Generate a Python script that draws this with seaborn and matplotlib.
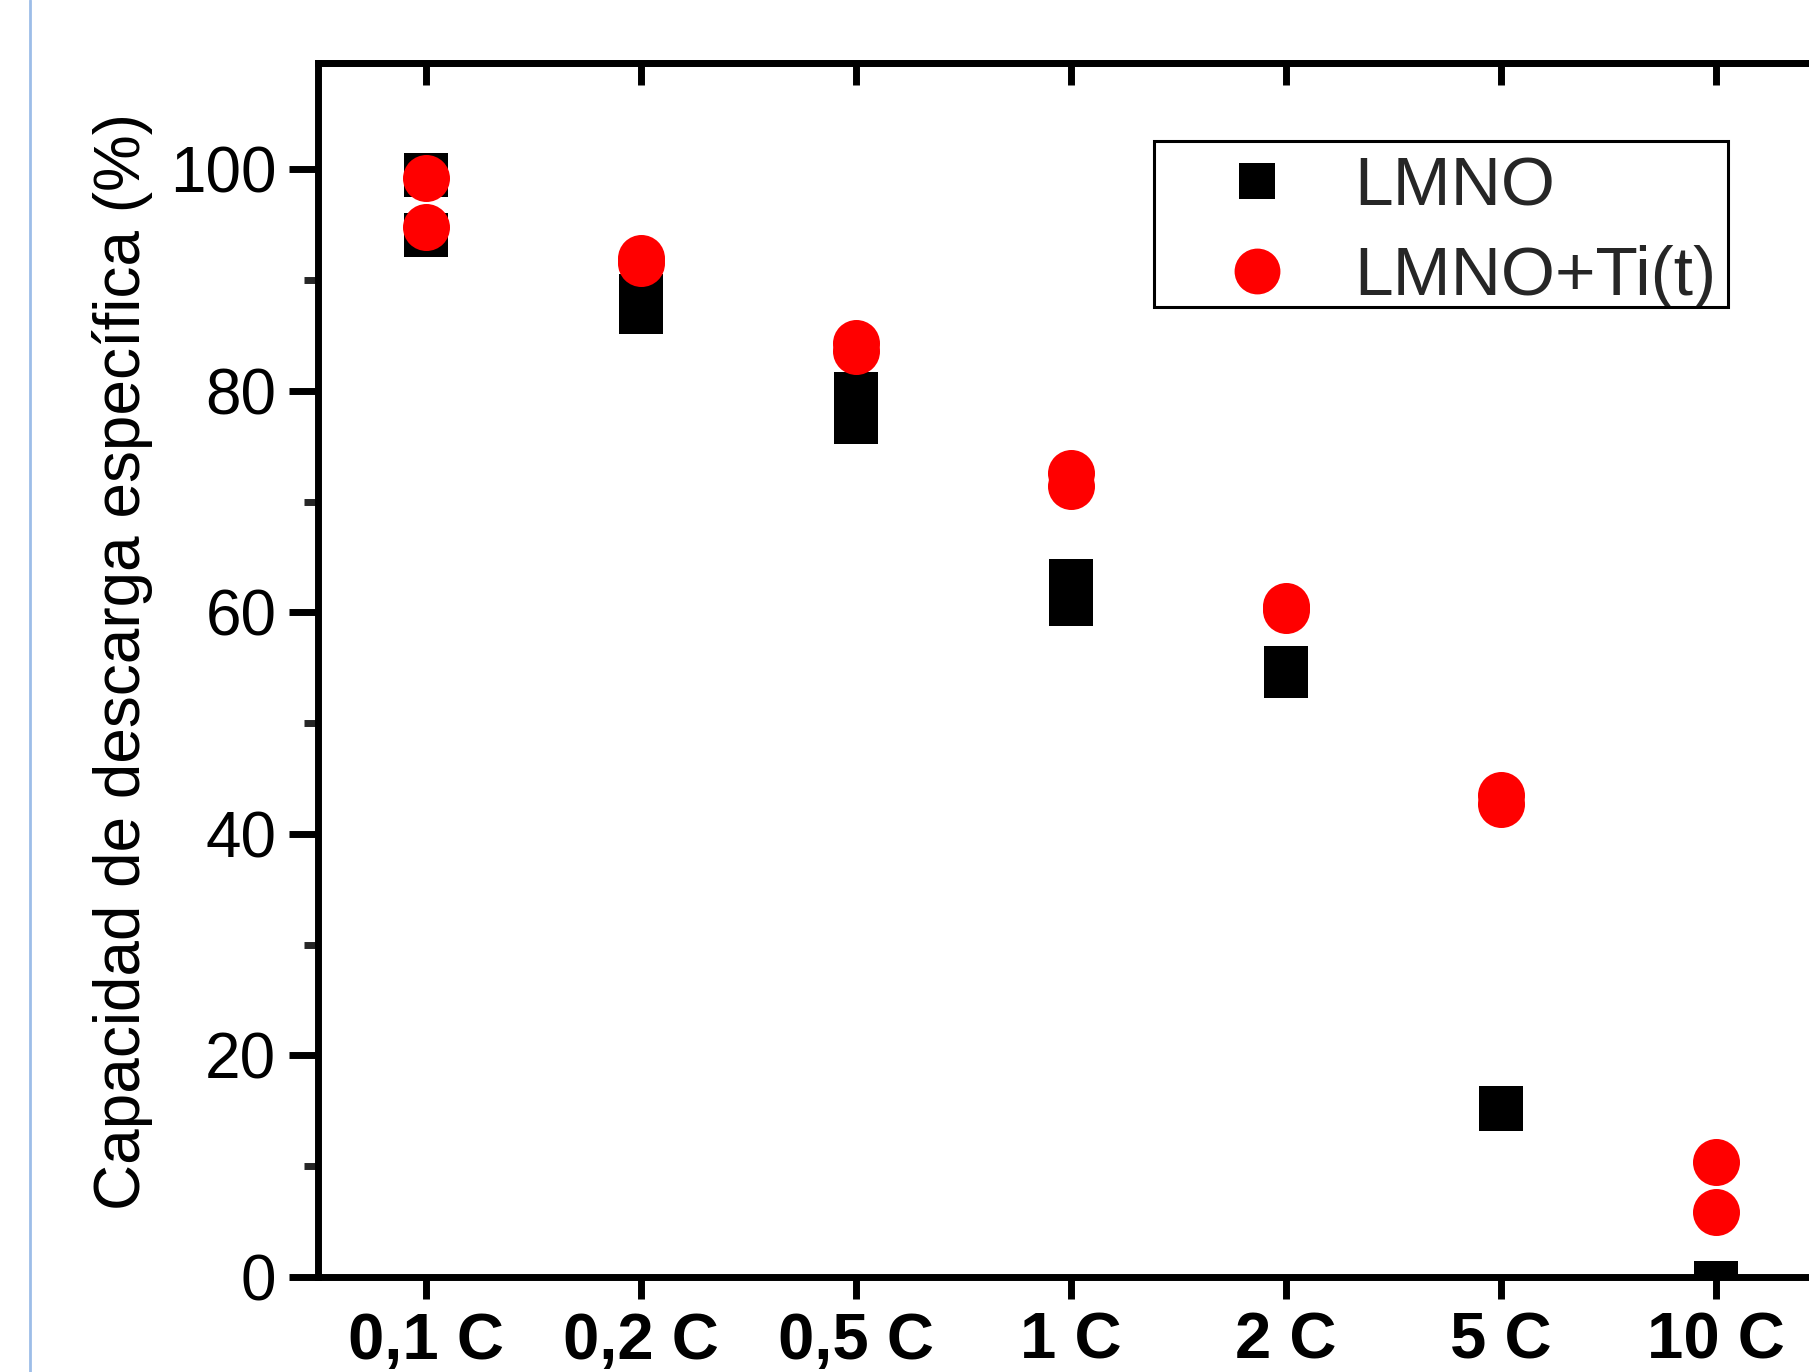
import matplotlib
matplotlib.use("Agg")
import matplotlib.pyplot as plt
import seaborn as sns
import pandas as pd
from matplotlib.lines import Line2D
from matplotlib.patches import Rectangle
from matplotlib.ticker import MultipleLocator

# ---- data ----
rates = ["0,1 C", "0,2 C", "0,5 C", "1 C", "2 C", "5 C", "10 C"]
lmno_first = [99.5, 88.6, 79.7, 62.8, 55.0, 15.3, -0.5]
lmno_second = [94.1, 87.1, 77.2, 60.8, 54.3, 15.2, -0.6]
ti_first = [99.2, 92.0, 84.3, 72.6, 60.6, 43.5, 10.4]
ti_second = [94.8, 91.5, 83.6, 71.4, 60.2, 42.7, 5.9]
series_names = ["LMNO", "LMNO+Ti(t)"]
y_label = "Capacidad de descarga específica (%)"

df = pd.DataFrame({
    "rate": rates * 4,
    "cap": lmno_first + lmno_second + ti_first + ti_second,
    "sample": [series_names[0]] * 14 + [series_names[1]] * 14,
})

sns.set_theme(style="white")
plt.rcParams["font.family"] = ["Liberation Sans", "DejaVu Sans"]

W, H = 1809, 1372
fig = plt.figure(figsize=(W / 100, H / 100), dpi=100)
ax = fig.add_axes([318 / W, (H - 1277) / H, 1505 / W, (1277 - 63) / H])

sns.scatterplot(data=df[df["sample"] == series_names[0]], x="rate", y="cap",
                marker="s", s=961, color="black", linewidth=0, legend=False, ax=ax)
sns.scatterplot(data=df[df["sample"] == series_names[1]], x="rate", y="cap",
                marker="o", s=1145, color="#ff0000", linewidth=0, legend=False, ax=ax)

ax.set_xlim(-0.5, 6.5)
ax.set_ylim(0, 109.6)
ax.yaxis.set_major_locator(MultipleLocator(20))
ax.yaxis.set_minor_locator(MultipleLocator(10))

for side in ["left", "bottom", "top", "right"]:
    ax.spines[side].set_linewidth(5)
    ax.spines[side].set_color("black")

ax.tick_params(axis="y", which="major", direction="out", length=21, width=5,
               labelsize=46, pad=9, left=True, colors="black")
ax.tick_params(axis="y", which="minor", direction="out", length=10, width=5, left=True)
ax.tick_params(axis="x", which="major", direction="out", length=16, width=5,
               labelsize=47, pad=9, bottom=True, top=False, colors="black")
for lab in ax.get_xticklabels():
    lab.set_fontweight("bold")

top = ax.secondary_xaxis("top")
top.set_xticks(range(len(rates)))
top.set_xticklabels([""] * len(rates))
top.tick_params(axis="x", direction="in", length=16, width=5, colors="black")
top.spines["top"].set_linewidth(5)

ax.set_xlabel("")
ax.set_ylabel(y_label, fontsize=46, labelpad=12, color="black")
ax.yaxis.label.set_y(0.507)

handles = [
    Line2D([], [], marker="s", color="black", linestyle="None", markersize=26.6, markeredgewidth=0),
    Line2D([], [], marker="o", color="#ff0000", linestyle="None", markersize=33, markeredgewidth=0),
]
leg = ax.legend(handles=handles, labels=series_names, loc="upper left",
                bbox_to_anchor=(1154 / W, 1 - 150 / H), bbox_transform=fig.transFigure,
                frameon=False, fontsize=50,
                borderpad=0.08, handlelength=2.8, handletextpad=0.0,
                labelspacing=0.37, borderaxespad=0)

# legend frame (square corners, thin black border)
fig.add_artist(Rectangle((1154 / W, 1 - 307 / H), (1728 - 1154) / W, (307 - 141) / H,
                         transform=fig.transFigure, fill=False, edgecolor="black",
                         linewidth=2.2))

fig.add_artist(Line2D([30 / W, 30 / W], [0, 1], transform=fig.transFigure,
                      color="#9dbde8", linewidth=2))

fig.savefig("out.png", dpi=100)
